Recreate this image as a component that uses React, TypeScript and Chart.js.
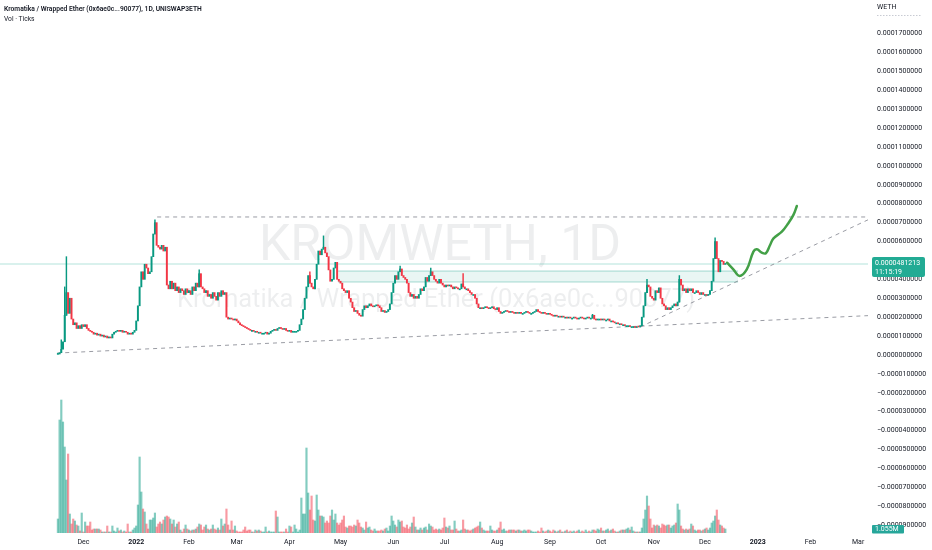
import React, { useEffect, useRef } from 'react';
import { Chart, registerables } from 'chart.js';

Chart.register(...registerables);

// ---------- DATA ----------
// day index relative to 1 Jan 2022 (day 0); first candle = 16 Nov 2021
const START_DAY = -46;
const FIRST_OPEN = 0.3;
// daily closes in units of 1e-6 WETH
const closes = [
  0.5, 1.2, 3, 7, 21, 33, 22, 30, 19, 16,
  17, 14, 15.5, 14, 16, 15, 16, 14, 13, 12.5,
  12, 11, 11.5, 10.5, 11, 10, 10.5, 9.5, 10, 9,
  9.5, 9, 11, 12, 12.5, 13, 12.5, 13, 12, 12.5,
  12, 11, 11.5, 11, 12, 13, 18, 26, 36, 44,
  40, 48, 46, 43, 44, 52, 64, 70, 58, 57,
  56, 58, 55, 57, 37, 35, 39, 35, 38, 34,
  36, 33, 35, 34, 32, 35, 33, 34, 32, 36,
  34, 38, 36, 43, 36, 35, 33, 34, 31, 32,
  30, 33, 31, 29, 33, 31, 34, 32, 33, 20,
  19, 19.5, 19, 18.5, 19, 18, 17, 16, 15.5, 15,
  14.5, 14, 13.5, 13, 13, 12.5, 12.5, 12, 12, 11.5,
  11.5, 11.5, 12, 11, 11.5, 12.5, 13, 13.5, 13, 14,
  14.5, 14, 13.5, 14, 13, 12.5, 13, 12, 12.5, 12.5,
  12.5, 13, 16, 19, 24, 30, 36, 42, 38, 36,
  35, 40, 48, 55, 53, 56, 57, 54, 52, 45,
  39, 40, 46, 49, 40, 39, 38, 35, 34, 33,
  34, 30, 28, 25, 23, 23.5, 22, 21, 20.5, 24,
  26, 25, 26, 27, 26, 25.5, 26, 26.5, 26, 25,
  23, 23.5, 22.5, 23, 24, 27, 33, 38, 42, 40,
  44, 45.5, 42, 41, 40, 38, 33, 31, 32, 30,
  31, 30, 32, 35, 34, 36, 41, 39, 42, 44,
  42, 40, 39, 38, 40, 38, 37, 36, 37, 36.5,
  37, 36, 35, 36, 35.5, 35, 35, 37.6, 36, 35,
  35, 34, 33, 32, 32, 30, 27, 25, 25, 24.5,
  25, 25.5, 25, 24.5, 25, 25.5, 24.5, 24, 25, 23,
  22, 22.5, 23, 23.5, 23, 22.5, 23, 22.5, 22, 22.5,
  22, 22.5, 22, 22, 22.5, 23, 22.5, 22, 22, 22.5,
  23, 24, 23, 22.5, 22, 22.5, 22, 21.5, 22, 21.5,
  21, 20.5, 21, 20.5, 20.5, 20, 20.5, 20, 20, 19.5,
  20, 19.5, 19.5, 20, 19.5, 19, 19.5, 20, 19.5, 19,
  19.5, 20, 19.5, 19.5, 21, 19, 18.5, 19, 19, 18.5,
  19, 18.5, 18.5, 19, 18, 18, 17.5, 17, 17, 16.5,
  16.5, 16, 16, 15.5, 15.5, 15.5, 15, 15, 15, 14.5,
  15, 14.8, 15.5, 20, 26, 33, 37, 36, 31, 30,
  29, 34, 33, 35.5, 30, 27, 26, 24, 25, 24,
  25, 26, 27, 26, 28, 40, 37, 34, 35, 33,
  35, 34, 35, 33, 33, 34, 33, 32, 33, 32,
  32, 31.5, 32, 34, 39, 51, 60, 51, 44, 50,
  49.5, 47.9, 48.12,
];
// notable upper wicks [day, high]
const highs: [number, number][] = [
  [-44, 8], [-42, 36], [-41, 52], [11, 71.5], [37, 45], [102, 44], [110, 63],
  [155, 47], [173, 46], [192, 43], [268, 21.5], [300, 40], [319, 42], [340, 62],
];
// daily volume (relative units; last bar = 1.055M)
const volume = [
  // d -46 .. 81
  14, 113, 133, 111, 86, 53, 79, 19, 9, 14,
  12, 8, 7, 2, 20, 1, 11, 7, 7, 11,
  3, 4, 4, 4, 4, 3, 1, 1, 1, 7,
  1, 1, 7, 2, 1, 5, 2, 3, 1, 2,
  1, 9, 1, 1, 3, 5, 7, 28, 76, 41,
  24, 21, 9, 4, 13, 13, 15, 20, 6, 9,
  11, 9, 13, 16, 17, 16, 14, 9, 13, 6,
  9, 11, 3, 1, 4, 8, 4, 3, 2, 3,
  3, 4, 6, 9, 8, 3, 6, 8, 4, 3,
  4, 8, 4, 3, 5, 3, 14, 7, 9, 24,
  8, 3, 12, 3, 7, 2, 1,
  1, 1, 3, 6, 2, 3, 3, 1, 1, 3, 2, 3, 2, 1, 1, 6, 1, 2, 1, 1, 1,
  // d 82 .. 149
  22, 16, 1, 1, 1, 1, 4, 1, 7, 6,
  1, 8, 4, 1, 3, 35, 19, 19, 85, 40,
  23, 37, 13, 12, 38, 23, 17, 17, 16, 10,
  12, 10, 17, 23, 13, 19, 10, 8, 10, 13,
  17, 6, 5, 7, 7, 6, 8, 7, 13, 10,
  6, 5, 3, 11, 5, 6, 3, 2, 4, 2,
  2, 2, 3, 2, 4, 5, 2, 7,
  // d 150 .. 213
  17, 12, 8, 6, 13, 11, 12, 6, 5, 8,
  4, 6, 10, 16, 6, 3, 3, 5, 3, 5,
  6, 3, 9, 7, 6, 3, 4, 3, 4, 3,
  5, 15, 6, 5, 7, 3, 3, 12, 4, 2,
  2, 3, 13, 4, 3, 3, 2, 3, 4, 5,
  6, 7, 11, 5, 3, 2, 2, 2, 7, 3,
  2, 2, 3, 5,
  // d 214 .. 346
  11, 3, 4, 2, 2, 3, 3, 3, 3, 2,
  3, 3, 2, 2, 3, 2, 3, 3, 2, 1,
  1, 1, 2, 1, 5, 2, 1, 2, 3, 2,
  1, 3, 2, 1, 2, 3, 1, 1, 2, 3,
  1, 2, 1, 2, 1, 2, 3, 1, 2, 1,
  3, 1, 2, 1, 3, 3, 2, 4, 3, 5,
  2, 2, 3, 4, 2, 3, 4, 2, 1, 1,
  2, 3, 3, 3, 4, 5, 3, 6, 2, 1,
  1, 1, 1, 5, 14, 23, 37, 27, 14, 5,
  8, 7, 8, 7, 5, 9, 8,
  7, 8, 8, 5, 7,
  8, 10, 29, 23, 7, 4, 3, 4, 3, 4,
  9, 7, 3, 2, 3, 3, 2, 3, 4, 5,
  3, 5, 10, 12, 17, 23, 13, 8, 7, 5, 4,
];

const xTickDays = [-31, 0, 31, 59, 90, 120, 151, 181, 212, 243, 273, 304, 334, 365, 396, 424];
const xTickLabels = ['Dec', '2022', 'Feb', 'Mar', 'Apr', 'May', 'Jun', 'Jul', 'Aug', 'Sep', 'Oct', 'Nov', 'Dec', '2023', 'Feb', 'Mar'];
const yTickValues = [-90, -80, -70, -60, -50, -40, -30, -20, -10, 0, 10, 20, 30, 40, 50, 60, 70, 80, 90, 100, 110, 120, 130, 140, 150, 160, 170];

// drawings (day, price 1e-6)
const topLine = [{ x: 12.3, y: 73 }, { x: 429.8, y: 73 }];
const bottomLine = [{ x: -46.4, y: 1.0 }, { x: 429.8, y: 20.8 }];
const risingLine = [{ x: 296, y: 14.8 }, { x: 429.8, y: 71.5 }];
const zoneX = [118.6, 353.5];
const zoneY = [38.6, 44.4];
const projection = [
  { x: 347, y: 48.8 }, { x: 350.7, y: 45.3 }, { x: 354.3, y: 41.8 }, { x: 358.6, y: 45.3 },
  { x: 362.5, y: 54.7 }, { x: 364.5, y: 55.9 }, { x: 367.4, y: 54.1 }, { x: 369.8, y: 53.8 },
  { x: 372.3, y: 58.2 }, { x: 374.3, y: 61.7 }, { x: 379.2, y: 65.2 }, { x: 383.0, y: 69.7 },
  { x: 386.0, y: 74.1 }, { x: 388.0, y: 78.8 },
];
const X_MIN = -80;
const X_MAX = 429.8;
const Y_MIN = -94.2;
const Y_MAX = 187.8;
const LAST_PRICE = 48.12;
const PRICE_LABEL = '0.0000481213';
const TIME_LABEL = '11:15:19';
const VOL_LABEL = '1.055M';
const HEADER = 'Kromatika / Wrapped Ether (0x6ae0c...90077), 1D, UNISWAP3ETH';
const SUBHEADER = 'Vol · Ticks';
const WM_TITLE = 'KROMWETH, 1D';
const WM_SUB = 'Kromatika / Wrapped Ether (0x6ae0c...90077)';
const CURRENCY = 'WETH';

const UP = '#089981';
const DOWN = '#f23645';
const UP_VOL = 'rgba(8,153,129,0.5)';
const DOWN_VOL = 'rgba(242,54,69,0.5)';
const FONT = 'Roboto, "Noto Sans", sans-serif';

const zeroPadding = (s: any) => {
  s.paddingTop = 0;
  s.paddingBottom = 0;
  s.paddingLeft = 0;
  s.paddingRight = 0;
};

const textPlugin = {
  id: 'tvText',
  beforeDatasetsDraw(chart: any) {
    const ctx = chart.ctx;
    const a = chart.chartArea;
    const cx = (a.left + a.right) / 2 + 6;
    ctx.save();
    ctx.fillStyle = 'rgba(19,23,34,0.075)';
    ctx.textAlign = 'center';
    ctx.textBaseline = 'alphabetic';
    ctx.font = `50px ${FONT}`;
    ctx.fillText(WM_TITLE, cx, 260);
    ctx.font = `25.5px ${FONT}`;
    ctx.fillText(WM_SUB, cx - 4, 307);
    ctx.restore();
  },
  afterDraw(chart: any) {
    const ctx = chart.ctx;
    ctx.save();
    ctx.textAlign = 'left';
    ctx.textBaseline = 'middle';
    ctx.fillStyle = '#131722';
    ctx.font = `600 6.7px ${FONT}`;
    ctx.fillText(HEADER, 4, 9);
    ctx.font = `6.7px ${FONT}`;
    ctx.fillText(SUBHEADER, 4, 19);
    ctx.font = `7px ${FONT}`;
    ctx.fillText(CURRENCY, 877, 7);
    ctx.strokeStyle = '#c8cbd3';
    ctx.lineWidth = 1;
    ctx.setLineDash([1.5, 1.5]);
    ctx.beginPath();
    ctx.moveTo(877, 15.5);
    ctx.lineTo(922, 15.5);
    ctx.stroke();
    ctx.setLineDash([]);
    // last price label
    const py = chart.scales.y.getPixelForValue(LAST_PRICE);
    ctx.fillStyle = '#22ab94';
    ctx.beginPath();
    ctx.roundRect(872, py - 7, 53, 20, 2);
    ctx.fill();
    ctx.fillStyle = '#ffffff';
    ctx.fillText(PRICE_LABEL, 875, py - 1);
    ctx.fillText(TIME_LABEL, 875, py + 8);
    // volume label
    ctx.fillStyle = '#26a69a';
    ctx.beginPath();
    ctx.roundRect(872, 525, 32, 8.5, 1);
    ctx.fill();
    ctx.fillStyle = '#ffffff';
    ctx.fillText(VOL_LABEL, 875, 529.5);
    ctx.restore();
  },
};

export default function App() {
  const ref = useRef<HTMLCanvasElement>(null);
  useEffect(() => {
    const n = Math.min(closes.length, volume.length);
    const days: number[] = [];
    const opens: number[] = [];
    for (let i = 0; i < n; i++) {
      days.push(START_DAY + i);
      opens.push(i === 0 ? FIRST_OPEN : closes[i - 1]);
    }
    const isUp = days.map((_, i) => closes[i] >= opens[i]);
    const bodies = days.map((d, i) => ({ x: d, y: [opens[i], closes[i]] }));
    const bodyColors = isUp.map((u) => (u ? UP : DOWN));
    const wicks = highs.map(([d, h]) => {
      const i = d - START_DAY;
      return { x: d, y: [Math.min(opens[i], closes[i]), h] };
    });
    const wickColors = highs.map(([d]) => (isUp[d - START_DAY] ? UP : DOWN));
    const vols = days.map((d, i) => ({ x: d, y: volume[i] }));
    const volColors = isUp.map((u) => (u ? UP_VOL : DOWN_VOL));

    const dashed = {
      type: 'line' as const,
      borderColor: 'rgba(120,123,134,0.75)',
      borderWidth: 1,
      borderDash: [4, 4],
      pointRadius: 0,
      fill: false,
      order: 5,
      yAxisID: 'y',
    };

    const chart = new Chart(ref.current as HTMLCanvasElement, {
      type: 'bar',
      data: {
        datasets: [
          {
            type: 'bar', label: 'vol', data: vols as any, backgroundColor: volColors,
            barThickness: 1.5, yAxisID: 'yv', order: 10, grouped: false,
          } as any,
          {
            type: 'line', label: 'zoneTop', yAxisID: 'y', order: 9,
            data: [{ x: zoneX[0], y: zoneY[1] }, { x: zoneX[1], y: zoneY[1] }],
            borderColor: 'rgba(8,153,129,0.35)', borderWidth: 1, pointRadius: 0,
            backgroundColor: 'rgba(8,153,129,0.09)', fill: '+1',
          } as any,
          {
            type: 'line', label: 'zoneBottom', yAxisID: 'y', order: 9,
            data: [{ x: zoneX[0], y: zoneY[0] }, { x: zoneX[1], y: zoneY[0] }],
            borderColor: 'rgba(8,153,129,0.35)', borderWidth: 1, pointRadius: 0, fill: false,
          } as any,
          {
            type: 'line', label: 'price', yAxisID: 'y', order: 8,
            data: [{ x: X_MIN, y: LAST_PRICE }, { x: X_MAX, y: LAST_PRICE }],
            borderColor: 'rgba(34,171,148,0.35)', borderWidth: 1, pointRadius: 0, fill: false,
          } as any,
          { ...dashed, label: 'top', data: topLine } as any,
          { ...dashed, label: 'bottom', data: bottomLine } as any,
          { ...dashed, label: 'rising', data: risingLine } as any,
          {
            type: 'bar', label: 'wicks', data: wicks as any, backgroundColor: wickColors,
            barThickness: 0.8, yAxisID: 'y', order: 2, grouped: false,
          } as any,
          {
            type: 'bar', label: 'candles', data: bodies as any, backgroundColor: bodyColors,
            barThickness: 1.3, minBarLength: 1, yAxisID: 'y', order: 1, grouped: false,
          } as any,
          {
            type: 'line', label: 'projection', yAxisID: 'y', order: 0, data: projection,
            borderColor: '#43a047', borderWidth: 2.5, pointRadius: 0, fill: false,
            tension: 0.4, borderCapStyle: 'round',
          } as any,
        ],
      },
      options: {
        responsive: false,
        animation: false,
        events: [],
        layout: { padding: 0 },
        plugins: { legend: { display: false }, tooltip: { enabled: false } },
        scales: {
          x: {
            type: 'linear', min: X_MIN, max: X_MAX, offset: false, position: 'bottom',
            grid: { display: false, drawTicks: false }, border: { display: false },
            afterFit: (s: any) => { s.height = 17; zeroPadding(s); },
            afterBuildTicks: (s: any) => { s.ticks = xTickDays.map((v) => ({ value: v })); },
            ticks: {
              autoSkip: false, maxRotation: 0, padding: 5, color: '#131722',
              font: (c: any) => ({
                family: FONT, size: 7,
                weight: c.tick && (c.tick.value === 0 || c.tick.value === 365) ? 'bold' : 'normal',
              }),
              callback: (v: any) => {
                const i = xTickDays.indexOf(Number(v));
                return i >= 0 ? xTickLabels[i] : '';
              },
            },
          },
          y: {
            type: 'linear', position: 'right', min: Y_MIN, max: Y_MAX,
            grid: { display: false, drawTicks: false }, border: { display: false },
            afterFit: (s: any) => { s.width = 64; zeroPadding(s); },
            afterBuildTicks: (s: any) => { s.ticks = yTickValues.map((v) => ({ value: v })); },
            ticks: {
              padding: 9, color: '#131722', font: { family: FONT, size: 7 },
              callback: (v: any) => {
                const n = Number(v);
                return (n < 0 ? '\u2212' : '') + (Math.abs(n) * 1e-6).toFixed(10);
              },
            },
          },
          yv: {
            type: 'linear', display: false, min: 0, max: 533,
          },
        },
      } as any,
      plugins: [textPlugin],
    });
    return () => chart.destroy();
  }, []);
  return (
    <div style={{ position: 'fixed', left: 0, top: 0, width: 932, height: 550, background: '#ffffff' }}>
      <canvas ref={ref} width={932} height={550} style={{ display: 'block' }} />
    </div>
  );
}
